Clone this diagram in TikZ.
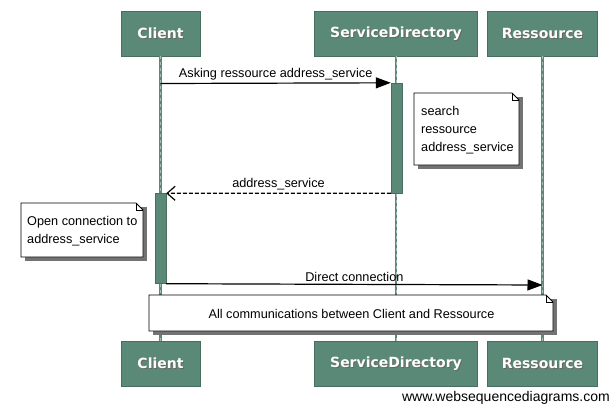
\documentclass[tikz,border=0pt]{standalone}
\usepackage{fontspec}
\setmainfont{Liberation Sans}
\newfontfamily\headfont{DejaVu Sans}
\usetikzlibrary{arrows.meta,calc,shapes.misc}
\definecolor{wsd}{RGB}{90,138,119}
\definecolor{wsdlight}{RGB}{160,190,178}
\tikzset{
  actor/.style={fill=wsd, draw=wsd!80!black, line width=0.4pt, minimum height=45pt, inner sep=0pt},
  actortext/.style={font=\headfont\bfseries\fontsize{14}{16}\selectfont, text=white, inner sep=0pt},
  actorshadow/.style={font=\headfont\bfseries\fontsize{14}{16}\selectfont, text=black!60, inner sep=0pt},
  life/.style={draw=wsd, line width=2.4pt},
  lifedash/.style={draw=wsdlight, line width=0.8pt, dash pattern=on 3pt off 3pt},
  act/.style={fill=wsd, draw=wsd!80!black, line width=0.4pt},
  msg/.style={draw=black, line width=1.2pt},
  msgfont/.style={font=\fontsize{12.7}{15}\selectfont},
  notetext/.style={font=\fontsize{12.7}{18.2}\selectfont, align=left},
}
\newcommand\wsdactor[4]{% name, x, y, width, text
  \node[actor, minimum width=#4pt] (#1) at (#2,#3) {};
}
\begin{document}
\begin{tikzpicture}[x=1pt,y=-1pt]
\useasboundingbox (0,0) rectangle (611,408);
% actors
\node[actor, minimum width=79pt] (c1) at (160.5,33.5) {};
\node[actor, minimum width=163pt] (s1) at (396,33.5) {};
\node[actor, minimum width=110pt] (r1) at (542.5,33.5) {};
\node[actor, minimum width=79pt] (c2) at (160.5,363.5) {};
\node[actor, minimum width=163pt] (s2) at (396,363.5) {};
\node[actor, minimum width=110pt] (r2) at (542.5,363.5) {};
\foreach \n/\t in {c1/Client,s1/ServiceDirectory,r1/Ressource,c2/Client,s2/ServiceDirectory,r2/Ressource}{
  \node[actorshadow] at ($(\n.center)+(1,1)$) {\t};
  \node[actortext] (\n t) at (\n.center) {\t};
}
% lifelines
\foreach \a/\b in {c1/c2,s1/s2,r1/r2}{
  \draw[life] (\a.south) -- (\b.north);
  \draw[lifedash] (\a.south) -- (\b.north);
}
% activations
\node[act, minimum width=11pt, minimum height=110pt, inner sep=0pt] (sa) at (396.5,138) {};
\node[act, minimum width=10.5pt, minimum height=90pt, inner sep=0pt] (ca) at (160.75,238.5) {};
% messages
\coordinate (m1s) at (c1.south |- 0,83.5);
\coordinate (m1e) at (sa.north west);
\draw[msg, -{Triangle[length=15pt,width=11pt]}] (m1s) -- (m1e)
  node[midway, above=-1pt, msgfont] {Asking ressource address\_service};
\coordinate (m2e) at (ca.north east);
\draw[msg, line width=1.2pt, dash pattern=on 4pt off 2pt, -{Straight Barb[length=8pt,width=14pt,line width=1.2pt]}] (sa.south west) -- (m2e)
  node[midway, above=-1pt, msgfont] {address\_service};
\coordinate (m3e) at (r1.south |- 0,285);
\draw[msg, -{Triangle[length=15pt,width=11pt]}] (ca.south east) -- (m3e)
  node[midway, above=-1pt, msgfont] {Direct connection};
% notes
\newcommand\wsdnote[5]{% name, x1,y1,x2,y2
  \fill[black!55] (#2+4,#3+4) rectangle (#4+4,#5+4);
  \fill[white] (#2,#3) -- (#4-7,#3) -- (#4,#3+7) -- (#4,#5) -- (#2,#5) -- cycle;
  \draw[line width=0.8pt] (#2,#3) -- (#4-7,#3) -- (#4,#3+7) -- (#4,#5) -- (#2,#5) -- cycle;
  \draw[line width=0.6pt] (#4-7,#3) -- (#4-7,#3+7) -- (#4,#3+7);
  \coordinate (#1) at (#2,#3);
}
\wsdnote{n1}{414}{93}{519}{165}
\node[notetext, anchor=north west, inner sep=0pt] (n1t) at (421,106) {search\\ressource\\address\_service};
\wsdnote{n2}{21}{203}{143}{257}
\node[notetext, anchor=north west, inner sep=0pt] (n2t) at (27,216) {Open connection to\\address\_service};
\wsdnote{n3}{149}{295}{553}{331}
\node[msgfont, inner sep=0pt] (n3t) at (351.5,313.5) {All communications between Client and Ressource};
% watermark
\node[anchor=south east, inner sep=0pt, font=\fontsize{14}{16}\selectfont] (wm) at (610,405) {www.websequencediagrams.com};
\end{tikzpicture}
\end{document}
